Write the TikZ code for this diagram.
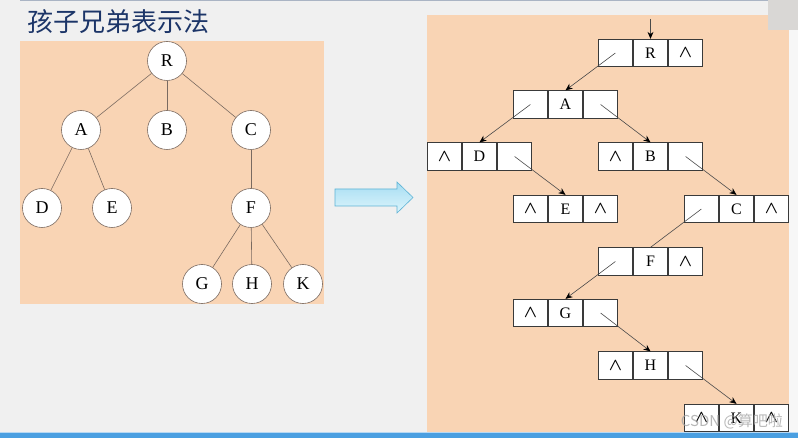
\documentclass[tikz,border=0pt]{standalone}
\usepackage{fontspec}
\setmainfont{Liberation Serif}
\newfontfamily\cjk{Noto Sans CJK SC}
\usetikzlibrary{arrows.meta}
\definecolor{bgc}{HTML}{F0F0F0}
\definecolor{peach}{HTML}{F9D4B4}
\definecolor{navy}{HTML}{1C3568}
\definecolor{edgec}{HTML}{7A6A60}
\definecolor{boxc}{HTML}{3A3A3A}
\definecolor{ptrc}{HTML}{4A4A4A}
\definecolor{arrfillA}{HTML}{A6DDF2}
\definecolor{arrfillB}{HTML}{DDF5FC}
\definecolor{arrdraw}{HTML}{5DB3D6}
\definecolor{barc}{HTML}{4A9FE1}
\definecolor{topline}{HTML}{AAB4C4}
\definecolor{cornerc}{HTML}{D9D7D5}
\newcommand\nilsym{\fontsize{18}{18}\selectfont$\boldsymbol{\wedge}$}
\newcommand\recnode[6]{%
  \node[cell] (#1) at (#2,#3) {#5};
  \node[cell,anchor=east] (#1-l) at (#1.west) {#4};
  \node[cell,anchor=west] (#1-r) at (#1.east) {#6};}
\usepackage{amsmath}
\tikzset{
  tnode/.style={circle,draw=edgec,fill=white,line width=0.6pt,minimum size=39pt,inner sep=0pt,font=\fontsize{18}{18}\selectfont},
  tedge/.style={draw=edgec,line width=0.6pt},
  cell/.style={rectangle,draw=boxc,fill=white,line width=0.8pt,minimum width=34.3pt,minimum height=27.5pt,inner sep=0pt,font=\fontsize{16}{16}\selectfont},
  ptr/.style={draw=ptrc,line width=0.6pt,-{Stealth[length=7pt,width=6pt,black]}},
  plain/.style={draw=ptrc,line width=0.6pt}
}
\begin{document}
\begin{tikzpicture}[x=1pt,y=-1pt]
\useasboundingbox (0,0) rectangle (798,438);
\fill[bgc] (0,0) rectangle (798,438);
% top line and bottom bar
\fill[topline] (20,0) rectangle (798,1.5);
\fill[barc] (0,432.5) rectangle (798,438);
\fill[white!60!barc] (0,431.8) rectangle (798,432.6);
% title
\node[anchor=west,text=navy,font=\cjk\fontsize{26}{26}\selectfont,inner sep=0pt] (title) at (27,22) {孩子兄弟表示法};
% left panel
\fill[peach] (20,41) rectangle (324,304);
\node[tnode] (tR) at (167,61) {R};
\node[tnode] (tA) at (81,130) {A};
\node[tnode] (tB) at (167,130) {B};
\node[tnode] (tC) at (251,130) {C};
\node[tnode] (tD) at (42,208) {D};
\node[tnode] (tE) at (112,208) {E};
\node[tnode] (tF) at (251,208) {F};
\node[tnode] (tG) at (202,284) {G};
\node[tnode] (tH) at (252,284) {H};
\node[tnode] (tK) at (303,284) {K};
\draw[tedge] (tR) -- (tA);
\draw[tedge] (tR) -- (tB);
\draw[tedge] (tR) -- (tC);
\draw[tedge] (tA) -- (tD);
\draw[tedge] (tA) -- (tE);
\draw[tedge] (tC) -- (tF);
\draw[tedge] (tF) -- (tG);
\draw[tedge] (tF) -- (tH);
\draw[tedge] (tF) -- (tK);
% block arrow
\shade[top color=arrfillA,bottom color=arrfillB,draw=arrdraw,line width=0.6pt]
  (335,189) -- (397,189) -- (397,182) -- (413,197.5) -- (397,213) -- (397,206) -- (335,206) -- cycle;
% right panel
\fill[peach] (427,15) rectangle (789,432);
\fill[white!97!black] (789,30) rectangle (798,432);
\fill[cornerc] (768,0) rectangle (798,30);
\recnode{R}{650.5}{53}{}{R}{\nilsym}
\recnode{A}{565.5}{104.5}{}{A}{}
\recnode{D}{479.5}{156.5}{\nilsym}{D}{}
\recnode{B}{650.5}{156.5}{\nilsym}{B}{}
\recnode{E}{565.5}{209}{\nilsym}{E}{\nilsym}
\recnode{C}{736.5}{209}{}{C}{\nilsym}
\recnode{F}{650.5}{261.5}{}{F}{\nilsym}
\recnode{G}{565.5}{313}{\nilsym}{G}{}
\recnode{H}{650.5}{365.5}{\nilsym}{H}{}
\recnode{K}{736.5}{418}{\nilsym}{K}{\nilsym}
\coordinate (top) at (650.5,19);
\draw[ptr,line width=0.9pt] (top) -- (R.north);
\draw[ptr] (R-l.center) -- (A.north);
\draw[ptr] (A-l.center) -- (D.north);
\draw[ptr] (A-r.center) -- (B.north);
\draw[ptr] (D-r.center) -- (E.north);
\draw[ptr] (B-r.center) -- (C.north);
\draw[plain] (C-l.center) -- (F.north);
\draw[ptr] (F-l.center) -- (G.north);
\draw[ptr] (G-r.center) -- (H.north);
\draw[ptr] (H-r.center) -- (K.north);
% bottom bar over K
\fill[barc] (427,432.5) rectangle (798,438);
% watermark
\node[anchor=east,text=gray!70,opacity=0.8,font=\cjk\fontsize{15}{15}\selectfont,inner sep=0pt] (wm) at (783,421) {CSDN @算吧啦};
\end{tikzpicture}
\end{document}
